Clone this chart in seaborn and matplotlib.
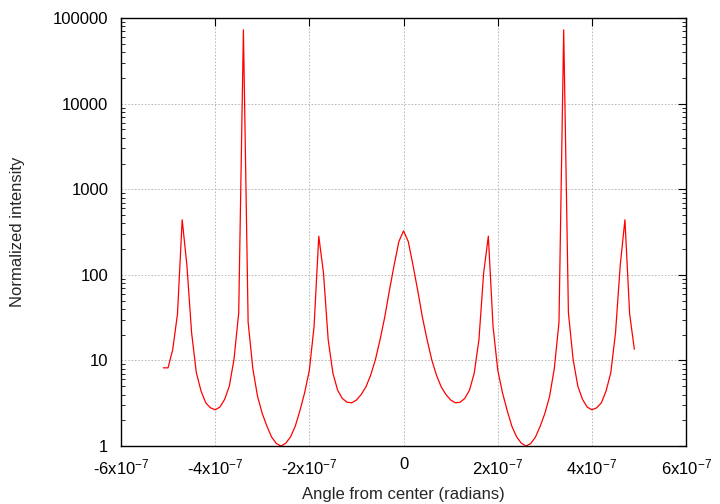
import numpy as np
import pandas as pd
import matplotlib
matplotlib.use('Agg')
import matplotlib.pyplot as plt
import seaborn as sns
from matplotlib.ticker import LogLocator, NullFormatter

# angle samples, in units of 1e-7 rad
angle_e7 = [-5.1, -5.0, -4.9, -4.8, -4.7, -4.6, -4.5, -4.4, -4.3, -4.2,
            -4.1, -4.0, -3.9, -3.8, -3.7, -3.6, -3.5, -3.4, -3.3, -3.2,
            -3.1, -3.0, -2.9, -2.8, -2.7, -2.6, -2.5, -2.4, -2.3, -2.2,
            -2.1, -2.0, -1.9, -1.8, -1.7, -1.6, -1.5, -1.4, -1.3, -1.2,
            -1.1, -1.0, -0.9, -0.8, -0.7, -0.6, -0.5, -0.4, -0.3, -0.2,
            -0.1, 0.0, 0.1, 0.2, 0.3, 0.4, 0.5, 0.6, 0.7, 0.8,
            0.9, 1.0, 1.1, 1.2, 1.3, 1.4, 1.5, 1.6, 1.7, 1.8,
            1.9, 2.0, 2.1, 2.2, 2.3, 2.4, 2.5, 2.6, 2.7, 2.8,
            2.9, 3.0, 3.1, 3.2, 3.3, 3.4, 3.5, 3.6, 3.7, 3.8,
            3.9, 4.0, 4.1, 4.2, 4.3, 4.4, 4.5, 4.6, 4.7, 4.8,
            4.9]
intensity = [8.2, 8.2, 13.5, 35, 440, 129, 21, 7.2, 4.4, 3.2,
             2.8, 2.65, 2.85, 3.5, 5.0, 10.3, 36, 73000, 28, 8.0,
             3.8, 2.4, 1.7, 1.27, 1.07, 1.0, 1.08, 1.28, 1.7, 2.6,
             4.2, 7.7, 25, 283, 105, 17.4, 7.1, 4.5, 3.6, 3.25,
             3.2, 3.45, 4.0, 4.9, 6.7, 10.1, 17.4, 32, 66, 130,
             245, 327, 245, 130, 66, 32, 17.4, 10.1, 6.7, 4.9,
             4.0, 3.45, 3.2, 3.25, 3.6, 4.5, 7.1, 17.4, 105, 283,
             25, 7.7, 4.2, 2.6, 1.7, 1.28, 1.08, 1.0, 1.07, 1.27,
             1.7, 2.4, 3.8, 8.0, 28, 73000, 36, 10.3, 5.0, 3.5,
             2.85, 2.65, 2.8, 3.2, 4.4, 7.2, 21, 129, 440, 35,
             13.5]

xtick_vals = [-6e-7, -4e-7, -2e-7, 0, 2e-7, 4e-7, 6e-7]
xtick_labels = [r'-6x10$^{\mathregular{-7}}$', r'-4x10$^{\mathregular{-7}}$',
                r'-2x10$^{\mathregular{-7}}$', '0',
                r'2x10$^{\mathregular{-7}}$', r'4x10$^{\mathregular{-7}}$',
                r'6x10$^{\mathregular{-7}}$']
ytick_vals = [1, 10, 100, 1000, 10000, 100000]
ytick_labels = ['1', '10', '100', '1000', '10000', '100000']

df = pd.DataFrame({'angle': np.array(angle_e7) * 1e-7, 'intensity': intensity})

sns.set_style('white')
plt.rcParams['font.family'] = ['Liberation Sans', 'DejaVu Sans']
plt.rcParams['mathtext.fontset'] = 'custom'
plt.rcParams['mathtext.rm'] = 'Liberation Sans'
plt.rcParams['mathtext.it'] = 'Liberation Sans'

fig = plt.figure(figsize=(7.2, 5.04), dpi=100)
ax = fig.add_axes([0.168, 0.115, 0.785, 0.849])
sns.lineplot(x='angle', y='intensity', data=df, ax=ax, color='#ff0000',
             linewidth=0.9, estimator=None, sort=False)
ax.set_yscale('log')
ax.set_xlim(-6e-7, 6e-7)
ax.set_ylim(1, 100000)

ax.set_xticks(xtick_vals)
ax.set_xticklabels(xtick_labels)
ax.set_yticks(ytick_vals)
ax.set_yticklabels(ytick_labels)
ax.yaxis.set_minor_locator(LogLocator(base=10, subs=np.arange(2, 10)))
ax.yaxis.set_minor_formatter(NullFormatter())

ax.tick_params(which='major', direction='in', length=6, width=0.8,
               top=True, right=True, labelsize=12, colors='black')
ax.tick_params(axis='y', which='major', pad=9)
ax.tick_params(axis='x', which='major', pad=8)
ax.tick_params(which='minor', direction='in', length=3, width=0.6,
               left=True, right=True, colors='black')
ax.grid(True, which='major', color='#b0b0b0', linestyle=(0, (2, 2)), linewidth=0.6)
for s in ax.spines.values():
    s.set_color('black')
    s.set_linewidth(1.0)

ax.set_xlabel('Angle from center (radians)', fontsize=12, labelpad=7)
ax.set_ylabel('Normalized intensity', fontsize=12, labelpad=20)

plt.savefig('out.png', dpi=100)
